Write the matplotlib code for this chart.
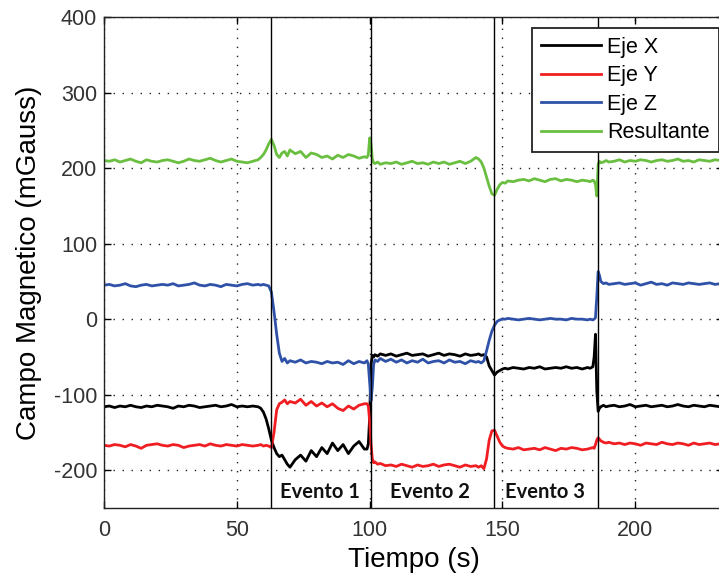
import numpy as np
import matplotlib.pyplot as plt

plt.rcParams['font.family'] = ['Liberation Sans', 'DejaVu Sans']
plt.rcParams['axes.unicode_minus'] = False

# sample times (s), finer around the events
t = np.array(
    list(range(0, 60, 2))
    + [59, 60, 61, 62, 63, 64, 65, 66, 67, 68, 69, 70]
    + list(range(72, 99, 2))
    + [99, 99.5, 100, 100.5, 101, 101.5, 102, 103, 104]
    + list(range(106, 141, 2))
    + [141, 142, 143, 144, 145, 146, 147, 148, 149, 150, 151, 152]
    + list(range(154, 183, 2))
    + [183, 184, 184.5, 185, 185.5, 186, 186.5, 187, 188, 189, 190]
    + list(range(192, 235, 2))
)

eje_x = [
    -116, -115, -117, -115, -116, -114, -116, -117, -115, -116, -114, -115, -116, -118, -115,
    -116, -114, -115, -117, -116, -115, -114, -116, -115, -113, -116, -115, -116, -115, -116,
    -118, -123, -132, -145, -160, -170, -178, -182, -180, -186, -192, -196,
    -186, -180, -188, -174, -182, -170, -178, -164, -174, -166, -178, -168, -162, -172,
    -172, -165, -130, -60, -48, -50, -47, -49, -46,
    -48, -46, -49, -47, -45, -48, -47, -46, -49, -47, -45, -48, -46, -47, -49, -46, -48, -47,
    -46, -48, -47, -50, -62, -68, -74, -70, -68, -66, -65, -66,
    -64, -65, -66, -64, -65, -63, -66, -65, -64, -65, -63, -65, -64, -66, -64,
    -65, -63, -50, -20, -95, -122, -118, -116, -114, -116, -115,
    -114, -116, -115, -113, -116, -115, -114, -116, -115, -114, -116, -115, -113, -115, -116,
    -114, -115, -116, -114, -115, -116, -115,
]

eje_y = [
    -167, -168, -166, -167, -169, -166, -168, -171, -167, -166, -165, -167, -168, -166, -167,
    -170, -168, -167, -166, -168, -165, -167, -168, -166, -167, -168, -166, -167, -168, -167,
    -166, -168, -167, -168, -170, -150, -120, -112, -110, -107, -112, -109,
    -111, -106, -114, -109, -115, -111, -116, -112, -118, -121, -115, -119, -114, -112,
    -112, -115, -135, -165, -185, -190, -189, -192, -191,
    -194, -193, -195, -192, -194, -196, -193, -195, -194, -192, -195, -193, -192, -194, -196, -193, -195, -194,
    -196, -194, -198, -185, -160, -148, -147, -155, -163, -168, -170, -171,
    -172, -170, -173, -172, -171, -173, -170, -172, -174, -171, -172, -170, -171, -173, -172,
    -171, -170, -171, -166, -160, -157, -159, -161, -163, -164, -163,
    -165, -164, -166, -164, -165, -167, -164, -165, -166, -163, -165, -166, -164, -165, -167,
    -164, -166, -165, -164, -166, -165, -164,
]

eje_z = [
    45, 46, 44, 45, 47, 44, 43, 45, 46, 44, 45, 46, 45, 47, 44,
    45, 46, 48, 45, 44, 46, 45, 43, 46, 45, 44, 46, 47, 45, 46,
    45, 46, 45, 44, 36, 10, -20, -45, -56, -52, -58, -55,
    -57, -54, -58, -56, -57, -59, -56, -58, -57, -60, -55, -59, -56, -58,
    -55, -60, -85, -108, -90, -60, -54, -56, -52,
    -56, -53, -57, -54, -58, -55, -57, -53, -58, -56, -55, -58, -54, -57, -56, -59, -55, -57,
    -56, -58, -55, -42, -28, -16, -8, -3, -1, 0, 0, 1,
    0, -1, 0, 1, 0, -1, 0, 1, 0, 0, -1, 1, 0, 0, -1,
    0, -1, 0, 2, 30, 63, 58, 50, 47, 48, 46,
    47, 48, 46, 47, 48, 45, 47, 49, 46, 47, 45, 48, 47, 46, 48,
    47, 46, 47, 48, 46, 47, 46,
]

resultante = [
    210, 209, 211, 208, 210, 212, 209, 207, 211, 209, 208, 210, 211, 209, 207,
    209, 212, 210, 209, 211, 213, 210, 208, 210, 212, 209, 208, 207, 209, 211,
    214, 218, 224, 232, 238, 230, 218, 214, 220, 222, 216, 224,
    219, 222, 214, 220, 218, 214, 216, 212, 217, 214, 218, 216, 213, 215,
    214, 218, 240, 232, 212, 207, 206, 208, 205,
    207, 206, 208, 205, 207, 209, 206, 207, 205, 208, 206, 208, 205, 207, 209, 206, 209, 214,
    212, 208, 200, 188, 176, 166, 164, 172, 178, 181, 180, 183,
    182, 184, 185, 183, 186, 184, 182, 185, 186, 183, 185, 184, 182, 184, 183,
    182, 184, 183, 178, 163, 205, 209, 207, 208, 210, 208,
    209, 211, 208, 210, 209, 211, 210, 208, 210, 211, 209, 210, 212, 209, 210,
    208, 211, 210, 209, 211, 210, 209,
]

eventos = [62.7, 100.5, 146.8, 185.8]
evento_labels = ['Evento 1', 'Evento 2', 'Evento 3']
evento_x = [81.4, 122.8, 166.1]

fig = plt.figure(figsize=(7.19, 5.79), dpi=100)
ax = fig.add_axes([104 / 719, 71 / 579, 619 / 719, 491 / 579])

ax.plot(t, eje_x, color='black', lw=2.0, label='Eje X')
ax.plot(t, eje_y, color='#f01e23', lw=2.0, label='Eje Y')
ax.plot(t, eje_z, color='#2f52a8', lw=2.0, label='Eje Z')
ax.plot(t, resultante, color='#6abf40', lw=2.0, label='Resultante')

for ev in eventos:
    ax.axvline(ev, color='black', lw=1.0)
for lab, xe in zip(evento_labels, evento_x):
    ax.text(xe, -229, lab, ha='center', va='center', fontsize=14.5,
            fontweight='bold', family=['Lato', 'DejaVu Sans'], color='#111111')

ax.set_xlim(0, 233)
ax.set_ylim(-250, 400)
ax.set_xticks([0, 50, 100, 150, 200])
ax.set_yticks([-200, -100, 0, 100, 200, 300, 400])
ax.grid(True, color='#222222', linestyle=(0, (1, 5.5)), lw=1.0)
ax.tick_params(direction='in', length=5, width=1, labelsize=15.5,
               labelcolor='#333333', top=True, right=True)
ax.tick_params(axis='x', pad=9)
ax.tick_params(axis='y', pad=5)
for sp in ax.spines.values():
    sp.set_linewidth(1.0)
    sp.set_color('#222222')

ax.set_xlabel('Tiempo (s)', fontsize=20, labelpad=4)
ax.set_ylabel('Campo Magnetico (mGauss)', fontsize=20, labelpad=8)

leg = ax.legend(loc='upper left', bbox_to_anchor=(532 / 719, 1 - 28 / 579),
                bbox_transform=fig.transFigure, borderaxespad=0, fontsize=15.5,
                handlelength=2.8, handletextpad=0.3, labelspacing=0.35,
                borderpad=0.4, fancybox=False, framealpha=1)
leg.get_frame().set_edgecolor('#222222')
leg.get_frame().set_linewidth(1.3)

fig.savefig('out.png', dpi=100)
